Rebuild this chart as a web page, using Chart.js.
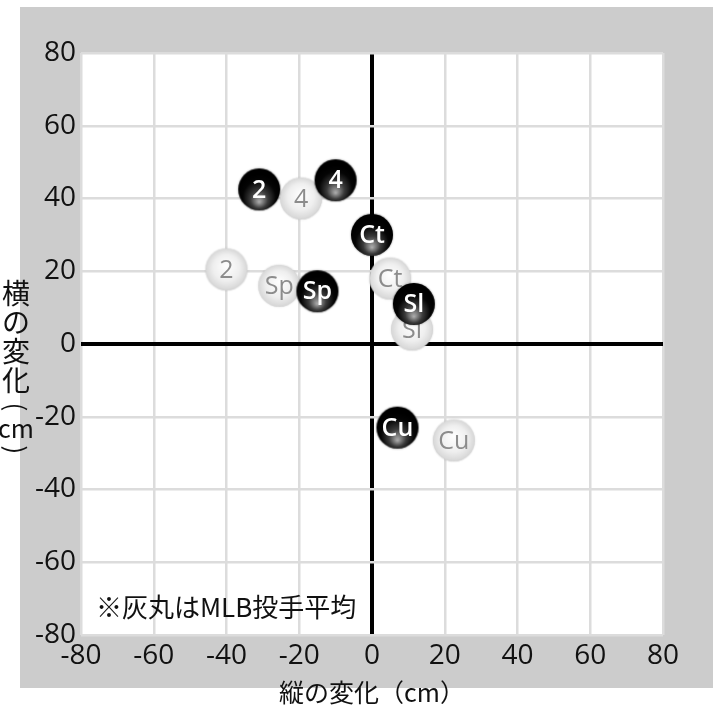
<!DOCTYPE html>
<html lang="ja">
<head>
<meta charset="utf-8">
<script src="https://cdn.jsdelivr.net/npm/chart.js@4.4.1/dist/chart.umd.min.js"></script>
<style>
  html, body { margin: 0; padding: 0; background: #fff; }
  #wrap { width: 720px; height: 715px; position: relative; }
</style>
</head>
<body>
<div id="wrap"><canvas id="myChart"></canvas></div>
<script>
// 球種
const pitchTypes = ['2', '4', 'Ct', 'Sp', 'Sl', 'Cu'];

// 投手の変化量（縦, 横）
const pitcherVert = [-31, -10, 0, -15, 11.5, 7];
const pitcherHoriz = [42.5, 45, 30, 14.5, 11, -23];

// MLB投手平均
const mlbVert = [-40, -19.5, 5, -25.5, 11, 22.5];
const mlbHoriz = [20.5, 40, 18, 16, 4, -26.5];

// 目盛り
const tickValues = [-80, -60, -40, -20, 0, 20, 40, 60, 80];

const xTitle = '縦の変化（cm）';
const yTitleChars = ['横', 'の', '変', '化', '(', 'cm', ')'];
const noteText = '※灰丸はMLB投手平均';

const numFont = "'Open Sans', 'Noto Sans', sans-serif";
const jpFont = "'Noto Sans CJK JP', sans-serif";

// 丸い点の画像
function makeBall(dark) {
    const r = 21;
    const c = document.createElement('canvas');
    c.width = r * 2 + 4;
    c.height = r * 2 + 4;
    const g = c.getContext('2d');
    const cx = r + 2, cy = r + 2;
    let grad;
    if (dark) {
        grad = g.createRadialGradient(cx, cy + r * 0.6, 0, cx, cy + r * 0.3, r * 1.05);
        grad.addColorStop(0, '#b0b0b0');
        grad.addColorStop(0.4, '#3a3a3a');
        grad.addColorStop(0.75, '#050505');
        grad.addColorStop(1, '#000');
    } else {
        grad = g.createRadialGradient(cx, cy - r * 0.2, 0, cx, cy, r * 1.05);
        grad.addColorStop(0, '#ffffff');
        grad.addColorStop(0.6, '#efefef');
        grad.addColorStop(0.9, '#dadada');
        grad.addColorStop(1, '#cacaca');
    }
    g.shadowColor = dark ? 'rgba(0,0,0,0.5)' : 'rgba(0,0,0,0.15)';
    g.shadowBlur = 2;
    g.beginPath();
    g.arc(cx, cy, r, 0, Math.PI * 2);
    g.fillStyle = grad;
    g.fill();
    return c;
}

const darkBall = makeBall(true);
const lightBall = makeBall(false);

// 背景・枠
const framePlugin = {
    id: 'frame',
    beforeDraw(chart) {
        const {ctx, chartArea: a} = chart;
        ctx.save();
        ctx.fillStyle = '#ffffff';
        ctx.fillRect(0, 0, chart.width, chart.height);
        ctx.fillStyle = '#cccccc';
        ctx.fillRect(a.left - 61, a.top - 46, (a.right + 50) - (a.left - 61), (a.bottom + 53) - (a.top - 46));
        ctx.fillStyle = '#ffffff';
        ctx.fillRect(a.left, a.top, a.right - a.left, a.bottom - a.top);
        ctx.restore();
    },
    afterDraw(chart) {
        const {ctx, chartArea: a} = chart;
        ctx.save();
        ctx.fillStyle = '#111';
        // 横軸タイトル
        ctx.font = '25px ' + jpFont;
        ctx.textAlign = 'center';
        ctx.textBaseline = 'middle';
        ctx.fillText(xTitle, (a.left + a.right) / 2, a.bottom + 57);
        // 縦軸タイトル（縦書き）
        let y = 293;
        const steps = [29, 29, 29, 27, 21, 22, 0];
        yTitleChars.forEach((ch, i) => {
            if (ch === '(' || ch === ')') {
                ctx.save();
                ctx.translate(16, y);
                ctx.rotate(Math.PI / 2);
                ctx.font = '26px ' + jpFont;
                ctx.fillText(ch, 0, 0);
                ctx.restore();
            } else {
                ctx.font = (ch === 'cm' ? '25px ' : '28px ') + jpFont;
                ctx.fillText(ch, 16, y);
            }
            y += steps[i];
        });
        // 注記
        ctx.font = '26px ' + jpFont;
        ctx.textAlign = 'left';
        ctx.fillText(noteText, a.left + 15, a.bottom - 28);
        ctx.restore();
    }
};

// 球種ラベル
const labelPlugin = {
    id: 'pitchLabels',
    afterDatasetDraw(chart, args) {
        const ds = chart.data.datasets[args.index];
        const {ctx} = chart;
        ctx.save();
        ctx.textAlign = 'center';
        ctx.textBaseline = 'middle';
        ctx.font = (ds.isPitcher ? '600 25px ' : '25px ') + numFont;
        ctx.fillStyle = ds.isPitcher ? '#ffffff' : '#8c8c8c';
        args.meta.data.forEach((pt, i) => {
            ctx.fillText(pitchTypes[i], pt.x, pt.y + 1);
        });
        ctx.restore();
    }
};

const gridColor = c => c.tick && c.tick.value === 0 ? '#000000' : '#dcdcdc';
const gridWidth = c => c.tick && c.tick.value === 0 ? 4 : 2.5;

const ctx = document.getElementById('myChart').getContext('2d');
const chart = new Chart(ctx, {
    type: 'scatter',
    data: {
        datasets: [
            {
                label: '投手',
                isPitcher: true,
                order: 0,
                data: pitcherVert.map((v, i) => ({x: v, y: pitcherHoriz[i]})),
                pointStyle: darkBall,
                pointRadius: 21
            },
            {
                label: 'MLB投手平均',
                isPitcher: false,
                order: 1,
                data: mlbVert.map((v, i) => ({x: v, y: mlbHoriz[i]})),
                pointStyle: lightBall,
                pointRadius: 21
            }
        ]
    },
    options: {
        responsive: true,
        maintainAspectRatio: false,
        animation: false,
        layout: {
            padding: {left: 0, top: 53, right: 57, bottom: 0}
        },
        plugins: {
            legend: {display: false},
            tooltip: {enabled: false}
        },
        scales: {
            x: {
                type: 'linear',
                min: -80,
                max: 80,
                afterBuildTicks: axis => { axis.ticks = tickValues.map(v => ({value: v})); },
                afterFit: axis => { axis.height = 80; },
                grid: {color: gridColor, lineWidth: gridWidth, drawTicks: false},
                border: {display: false},
                ticks: {
                    color: '#111',
                    font: {family: numFont, size: 28},
                    padding: 4,
                    maxRotation: 0
                }
            },
            y: {
                type: 'linear',
                min: -80,
                max: 80,
                afterBuildTicks: axis => { axis.ticks = tickValues.map(v => ({value: v})); },
                afterFit: axis => { axis.width = 81; },
                grid: {color: gridColor, lineWidth: gridWidth, drawTicks: false},
                border: {display: false},
                ticks: {
                    color: '#111',
                    font: {family: numFont, size: 28},
                    padding: 5
                }
            }
        }
    },
    plugins: [framePlugin, labelPlugin]
});
</script>
</body>
</html>
